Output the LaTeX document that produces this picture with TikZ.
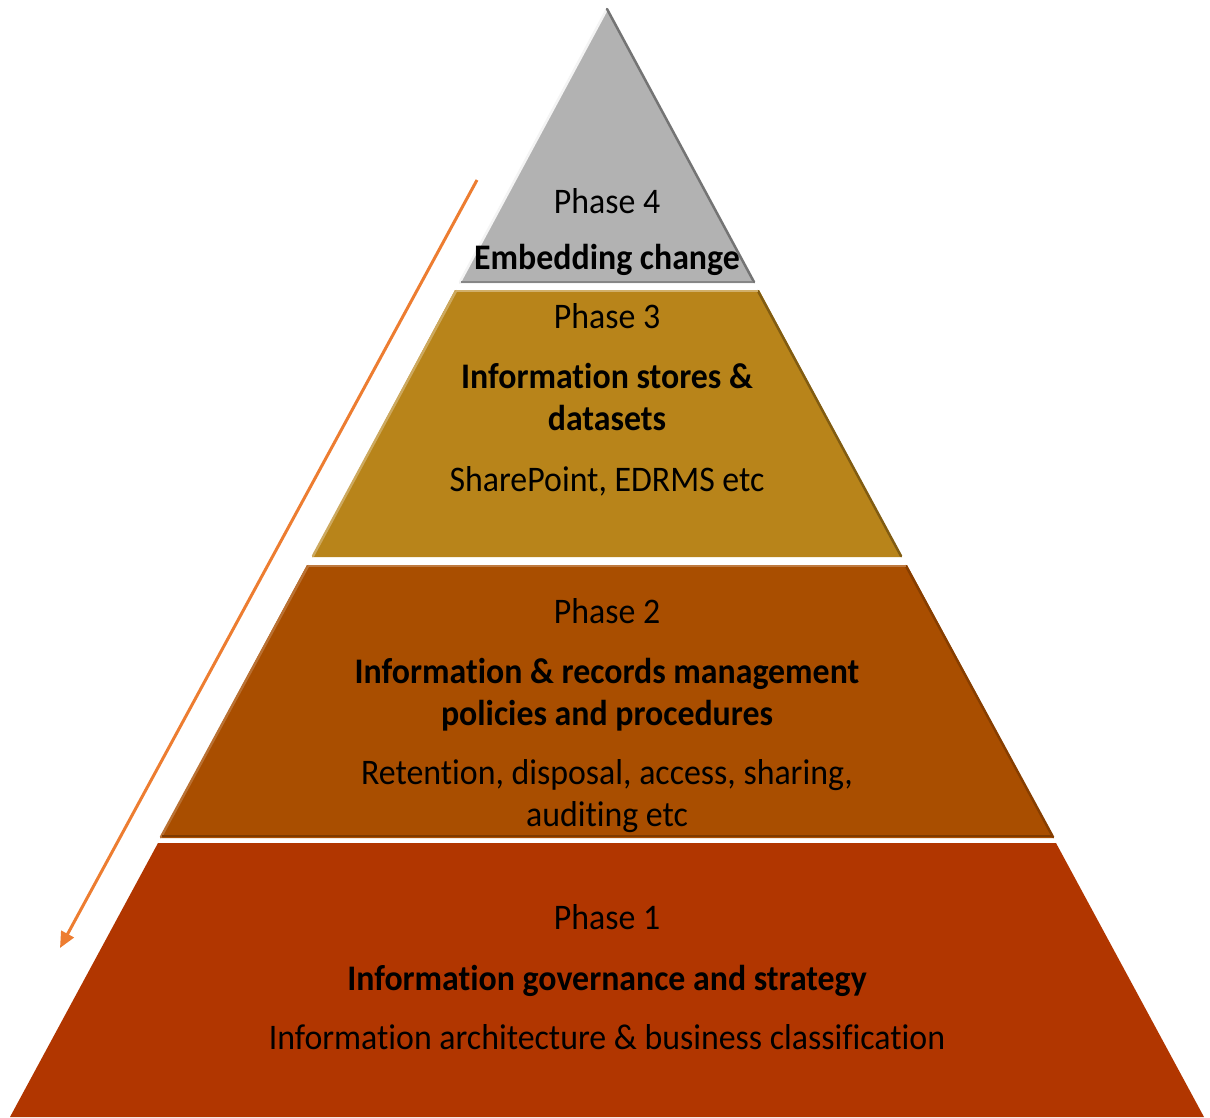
\documentclass[tikz,border=0pt]{standalone}
\usepackage{fontspec}
\setmainfont{Carlito}[FakeStretch=0.94, Ligatures=NoCommon]
\usetikzlibrary{arrows.meta}
\definecolor{graylayer}{HTML}{B2B2B2}
\definecolor{goldlayer}{HTML}{B8841A}
\definecolor{brownlayer}{HTML}{A94E00}
\definecolor{redlayer}{HTML}{B13600}
\definecolor{arroworange}{HTML}{ED7D31}
\tikzset{
  txt/.style={font=\fontsize{36}{42}\selectfont, text=black, inner sep=0pt, text height=28pt, text depth=5pt, anchor=center},
  btxt/.style={txt, font=\fontsize{36}{42}\selectfont\bfseries},
  layeredge/.style={line width=2.5pt, line cap=round},
}
\begin{document}
\begin{tikzpicture}[x=1pt,y=-1pt]
\useasboundingbox (0,0) rectangle (1210,1117);
\fill[white] (0,0) rectangle (1210,1117);
% layers
\fill[graylayer] (607,8) -- (755,283) -- (459,283) -- cycle;
\draw[layeredge, white!85!graylayer] (607,9) -- (460,282);
\draw[layeredge, black!35!graylayer] (607,9) -- (754,282);
\draw[line width=2pt, black!25!graylayer] (461,282) -- (753,282);

\fill[goldlayer] (455,290) -- (759,290) -- (902,557) -- (312,557) -- cycle;
\draw[layeredge, white!30!goldlayer] (456,291) -- (313,556);
\draw[layeredge, black!30!goldlayer] (758,291) -- (901,556);
\draw[line width=2pt, white!35!goldlayer] (456,291) -- (758,291);

\fill[brownlayer] (307,565) -- (907,565) -- (1054,838) -- (160,838) -- cycle;
\draw[layeredge, white!20!brownlayer] (308,566) -- (161,837);
\draw[layeredge, black!20!brownlayer] (906,566) -- (1053,837);
\draw[line width=2pt, white!25!brownlayer] (308,566) -- (906,566);
\draw[line width=2pt, black!25!brownlayer] (162,836) -- (1052,836);

\fill[redlayer] (158,843) -- (1056,843) -- (1204,1117) -- (10,1117) -- cycle;

% arrow
\coordinate (astart) at (477,180);
\coordinate (aend) at (60,948);
\draw[arroworange, line width=3pt, -{Triangle[length=16pt,width=14pt]}] (astart) -- (aend);

% texts
\node[txt]  (p4)  at (607,201.5) {Phase 4};
\node[btxt] (p4b) at (607,257.5) {Embedding change};

\node[txt]  (p3)  at (607,317) {Phase 3};
\node[btxt] (p3b) at (607,377) {Information stores \&};
\node[btxt] (p3c) at (607,419) {datasets};
\node[txt]  (p3d) at (607,480) {SharePoint, EDRMS etc};

\node[txt]  (p2)  at (607,612) {Phase 2};
\node[btxt] (p2b) at (607,672) {Information \& records management};
\node[btxt] (p2c) at (607,714) {policies and procedures};
\node[txt]  (p2d) at (607,773) {Retention, disposal, access, sharing,};
\node[txt]  (p2e) at (607,815) {auditing etc};

\node[txt]  (p1)  at (607,918) {Phase 1};
\node[btxt] (p1b) at (607,979) {Information governance and strategy};
\node[txt]  (p1c) at (607,1038) {Information architecture \& business classification};
\end{tikzpicture}
\end{document}
